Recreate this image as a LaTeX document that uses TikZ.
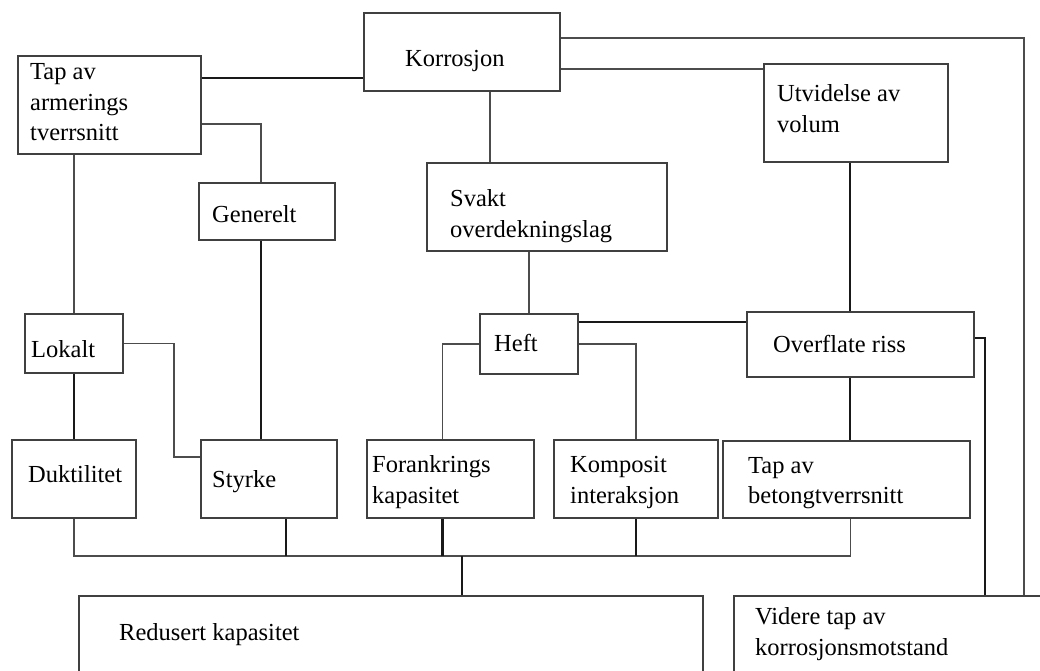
\documentclass[tikz,border=0pt]{standalone}
\usepackage{fontspec}
\setmainfont{Liberation Serif}
\usetikzlibrary{calc}
\begin{document}
\begin{tikzpicture}[x=1pt,y=-1pt,
  box/.style={draw=black!75, line width=1.8pt, rectangle, inner sep=0pt, anchor=north west},
  txt/.style={inner sep=0pt, anchor=base west, align=left, font=\fontsize{24.5}{30.5}\selectfont},
  thick line/.style={draw=black!90, line width=2.3pt},
  thin line/.style={draw=black!70, line width=1.6pt}]
\path[use as bounding box] (0,0) rectangle (1040,671);
\clip (0,0) rectangle (1040,671);
% boxes
\node[box, minimum width=183pt, minimum height=98pt] (tap) at (17,55) {};
\node[box, minimum width=196pt, minimum height=78pt] (korr) at (363,12) {};
\node[box, minimum width=184pt, minimum height=98pt] (utv) at (763,63) {};
\node[box, minimum width=136pt, minimum height=57pt] (gen) at (198,182) {};
\node[box, minimum width=240pt, minimum height=88pt] (sv) at (426,162) {};
\node[box, minimum width=98pt, minimum height=59pt] (lok) at (24,313) {};
\node[box, minimum width=98pt, minimum height=60pt] (heft) at (479,313) {};
\node[box, minimum width=227pt, minimum height=65pt] (ovf) at (746,311) {};
\node[box, minimum width=124pt, minimum height=78pt] (dukt) at (11,439) {};
\node[box, minimum width=136pt, minimum height=78pt] (sty) at (200,439) {};
\node[box, minimum width=167pt, minimum height=78pt] (fork) at (366,439) {};
\node[box, minimum width=164pt, minimum height=78pt] (komp) at (553,439) {};
\node[box, minimum width=247pt, minimum height=77pt] (bet) at (722,440) {};
\node[box, minimum width=624pt, minimum height=110pt] (red) at (78,595) {};
\node[box, minimum width=340pt, minimum height=110pt] (vid) at (733,595) {};
% texts (base = last line baseline)
\node[txt] (tapt) at (30,141) {Tap av\\armerings\\tverrsnitt};
\node[txt] (korrt) at (405,67) {Korrosjon};
\node[txt] (utvt) at (777,132.5) {Utvidelse av\\volum};
\node[txt] (gent) at (212,222) {Generelt};
\node[txt] (svt) at (450,237) {Svakt\\overdekningslag};
\node[txt] (lokt) at (31,357) {Lokalt};
\node[txt] (heftt) at (494,351) {Heft};
\node[txt] (ovft) at (773,352) {Overflate riss};
\node[txt] (duktt) at (28,482) {Duktilitet};
\node[txt] (styt) at (212,487) {Styrke};
\node[txt] (forkt) at (372,503) {Forankrings\\kapasitet};
\node[txt] (kompt) at (570,503) {Komposit\\interaksjon};
\node[txt] (bett) at (748,503.5) {Tap av\\betongtverrsnitt};
\node[txt] (redt) at (119,640) {Redusert kapasitet};
\node[txt] (vidt) at (755,655) {Videre tap av\\korrosjonsmotstand};
% helper coordinates
\coordinate (bus) at (0,556);
\coordinate (k1) at ([yshift=14pt]korr.south west);
\coordinate (u1) at ([yshift=-6pt]utv.north west);
\coordinate (k0) at ([yshift=-26pt]korr.north east);
\coordinate (k2) at ([xshift=28pt]korr.south);
\coordinate (t1) at ([yshift=31pt]tap.south east);
\coordinate (g1) at ([xshift=-6pt]gen.north);
\coordinate (g2) at ([xshift=-6pt]gen.south);
\coordinate (s1) at ([yshift=-18pt]sty.north west);
\coordinate (h1) at ([yshift=-9pt]heft.north east);
\coordinate (o1) at ([xshift=104pt]ovf.north west);
\coordinate (o2) at ([xshift=104pt]ovf.south west);
\coordinate (o3) at ([yshift=-27pt]ovf.north east);
\coordinate (sb) at ([xshift=17pt]sty.south);
\coordinate (fb) at ([xshift=-8pt]fork.south);
\coordinate (bb) at ([xshift=4pt]bet.south);
\coordinate (rt) at ([xshift=71pt]red.north);
% connectors
\draw[thick line] (k1) -- (tap.east |- k1);
\draw[thin line] (u1) -- (korr.east |- u1);
\draw[thin line] (k0) -| ([xshift=291pt]vid.north west);
\draw[thin line] (k2) -- (k2 |- sv.north);
\draw[thin line] (t1) -| (g1);
\draw[thin line] (lok.north) -- (lok.north |- tap.south);
\draw[thick line] (lok.south) -- (dukt.north);
\draw[thin line] (lok.east) -- ++(50,0) |- (s1);
\draw[thick line] (g2) -- (g2 |- sty.north);
\draw[thin line] (heft.north) -- (heft.north |- sv.south);
\draw[thin line] (heft.west) -| ([xshift=-8pt]fork.north);
\draw[thin line] (heft.east) -| (komp.north);
\draw[thick line] (h1) -- (ovf.west |- h1);
\draw[thick line] (o1) -- (o1 |- utv.south);
\draw[thick line] (o2) -- (o2 |- bet.north);
\draw[thick line] (o3) -| ([xshift=252pt]vid.north west);
% bottom bus
\draw[thin line] (dukt.south) -- (dukt.south |- bus) -- (bb |- bus) -- (bb);
\draw[thick line] (sb) -- (sb |- bus);
\draw[thick line] (fb) -- (fb |- bus);
\draw[thick line] (komp.south) -- (komp.south |- bus);
\draw[thick line] (rt) -- (rt |- bus);
\end{tikzpicture}
\end{document}
